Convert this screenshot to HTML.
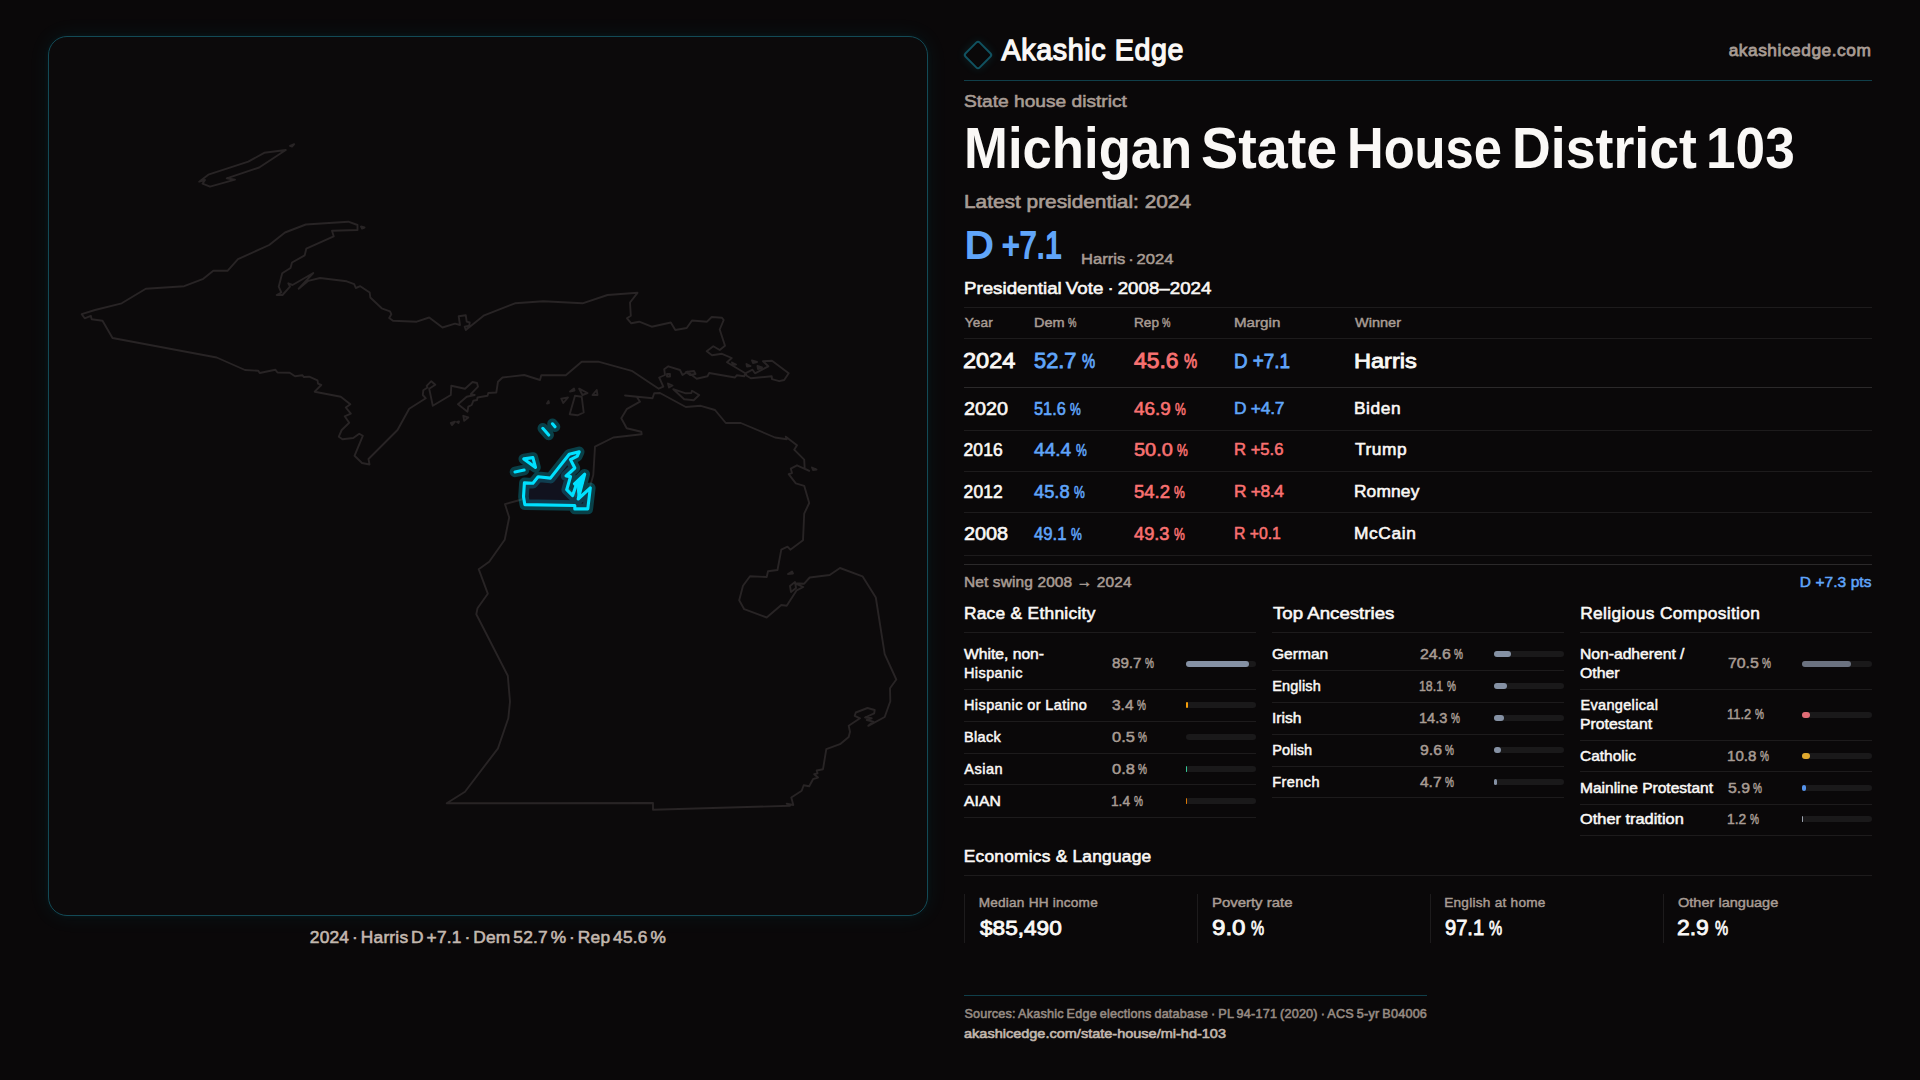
<!DOCTYPE html>
<html lang="en">
<head>
<meta charset="utf-8">
<title>Michigan State House District 103 — Akashic Edge</title>
<style>
*{box-sizing:border-box;margin:0;padding:0}
html,body{width:1920px;height:1080px;overflow:hidden;background:#0a0809}
body{position:relative;font-family:"Liberation Sans","DejaVu Sans",sans-serif;color:#faf8f6;-webkit-font-smoothing:antialiased}
.x{position:absolute;white-space:pre;line-height:1;font-weight:400;font-style:normal;transform-origin:0 0;display:block}
.ln,.ln2,.tl,.vl{position:absolute;display:block;height:1px;background:#1d1b1c}
.ln2{background:#2b292a}
.tl{background:#103f4a}
.vl{width:1px;height:49px;background:#1d1b1c}
.map{position:absolute;left:48px;top:36px;width:880px;height:880px;border:1px solid #134a56;border-radius:19px;background:#0c0a0b;box-shadow:0 0 22px rgba(34,211,238,.07),0 0 6px rgba(34,211,238,.05);overflow:hidden}
.mapsvg{position:absolute;left:-1px;top:-1px}
.state{fill:none;stroke:#282425;stroke-width:1.9;stroke-linejoin:round;stroke-linecap:round}
.dglow{fill:none;stroke:#00e5ff;stroke-opacity:.25;stroke-width:10.6;stroke-linejoin:round;stroke-linecap:round}
.dline{fill:rgba(40,50,110,.2);stroke:#00e1ff;stroke-width:3.1;stroke-linejoin:round;stroke-linecap:round}
.dfill{fill:#00e1ff;stroke:#00e1ff;stroke-width:1;stroke-linejoin:round}
.logo{position:absolute;left:966.6px;top:43.8px;width:22px;height:22px;border:2px solid #115260;border-radius:3.5px;transform:rotate(45deg);box-shadow:0 0 10px rgba(34,211,238,.12)}
.bar{position:absolute;display:block;width:70px;height:6px;border-radius:3px;background:#1a191a}
.bar b{display:block;height:6px;border-radius:3px}
</style>
</head>
<body>
<main>
<section class="map" aria-label="District map"><svg class="mapsvg" viewBox="48 36 880 880" width="880" height="880" role="img" aria-label="Michigan map with State House District 103 highlighted"><path class="state" d="M81.7 314.2 L95 310 L121.7 303.3 L145.8 288.7 L184.2 286.2 L203.3 278.8 L213.3 270.8 L227.5 270.8 L238 259.2 L269.2 245 L285 232.5 L305.8 224.5 L348.3 221.7 L357.5 225 L357.5 230 L332 230.8 L333.7 236.3 L306.3 248.7 L304.7 255.3 L292 262.5 L290.5 268 L282.2 273.3 L278.7 286.7 L281.3 292.5 L276.7 295 L282.5 295 L290 286.7 L288.3 283.3 L292.5 285 L313.3 273 L298.7 288.7 L308.3 280.8 L320 278 L346.7 281.3 L354.2 284.2 L355.8 288 L360.3 286.2 L369.7 292.5 L370.3 297.5 L381.7 308.3 L390 311.3 L391.3 314.2 L389.2 318 L393 320.8 L416.7 321.7 L429.2 317.5 L442.5 327.5 L455 323.7 L460 325 L458.7 316.3 L465.8 315.3 L466.7 321.7 L469.7 322.5 L469.2 325.8 L464.7 326.7 L465.8 330 L484.2 315.3 L515 303.3 L543.3 301.3 L582.5 303.3 L607.5 295 L637.5 292.8 L630 302.5 L630.8 315.8 L627 318.3 L631.3 323.3 L639.2 321.7 L651.7 326.7 L670.8 322.5 L675.3 330 L686.7 328 L692 320.5 L707 321.7 L711.7 317 L722 317.7 L723.7 320 L719.7 329.5 L725 345.8 L719.7 350 L713.3 346.3 L706.7 351.3 L712 355.3 L722 353.8 L731.7 358 L727 362.2 L745.3 373.3 L744.2 376.3 L736.7 375.3 L735 377.5 L709.2 373 L707.5 376.3 L696.7 378.7 L691.7 375 L687.5 371.7 L682.5 375 L680 370 L668.3 366.3 L664.2 369.2 L665 375 L659.2 377.5 L663.3 386.7 L658.7 388.7 L631.7 370.8 L598.3 361.7 L581.7 361.7 L565.8 375.3 L541.3 375.3 L540 380 L524.2 375 L502.5 377.5 L498 381.7 L496.3 392.5 L488.3 393 L487.5 395.8 L477.5 397.5 L477 400 L473.3 400.8 L471.7 405 L468.3 406.7 L467.5 411.7 L458 404.2 L466.7 396.7 L474.7 395 L470.8 394.2 L478 386.7 L477 383 L472.5 382 L465 388.7 L451.3 385.8 L450.8 395 L432.8 405.8 L429.2 388.7 L435.3 384.7 L431.3 381.2 L426.7 385.8 L427.5 387.5 L423.3 390.3 L422.8 395 L425.8 398.3 L409.2 408.7 L397.5 430 L368.5 459 L369.5 464.5 L362 463 L354.5 455.8 L362.8 435.8 L359.2 433.7 L353.3 438 L342.5 439.2 L338.8 436.7 L341.7 430 L349.2 422.8 L344.7 416.3 L350.8 413.7 L345.8 407.5 L350.3 404.2 L340.8 396.7 L314.7 391.7 L321.3 385 L318 383.7 L317.5 380.3 L309.2 376.7 L303.7 377 L302.5 375.3 L295 376.3 L289.7 372.8 L277.5 372.5 L275.3 369.7 L259.7 373 L258.3 370.8 L245 370 L216.7 357.5 L112.5 338 L102.5 320.8 L91.7 319.2 L90.8 315.8 L84.7 318.3ZM625 395.5 L652.5 398.3 L654.2 393.3 L660 393 L685.8 407 L700.8 405.8 L715 410 L725.8 423 L740.8 423 L775 437.5 L786.7 439.2 L785.8 436.7 L797 445.3 L794.2 449.7 L804.2 459.7 L804.7 468.7 L809.2 470.8 L797 465.3 L790.8 468.7 L792 473 L788.7 474.2 L795.8 483.3 L804.2 485.8 L809.2 503 L804.2 513.7 L803 540.3 L790.3 549.7 L787.5 546.7 L781.3 549.7 L777.5 570 L768 571.3 L766.7 577 L750 576.3 L743 585.8 L739.2 600.3 L744.2 609.2 L766.7 617.5 L781.3 605 L786.7 605.8 L796.7 590.3 L803.3 587 L795 583.3 L804.2 583.7 L809.7 577.5 L829.7 575 L840 568 L862.5 576.3 L875.8 597.5 L884.7 654.2 L896.3 679.5 L890 688.3 L890.3 701.3 L884.7 717 L868.3 725.8 L873.3 721.7 L866.7 720 L871.7 718.3 L865 717.5 L874.2 713.3 L874.7 710 L867.5 708 L855.8 712.5 L854.7 715.8 L860 718.3 L848.7 725.8 L850 731.7 L848.7 737 L840 744.2 L826.3 749.2 L823 769.2 L816.7 770.5 L817.5 773.3 L814.2 774.2 L818 777.5 L813 779.2 L809.2 786.3 L803.7 785.3 L801.7 790.8 L791.3 797.5 L793.3 805 L786.7 803.7 L790 805.8 L653 809.7 L653 803 L446.7 803.3 L465 791.7 L498 748.3 L508.3 718.3 L510 701.7 L507.8 675.8 L476.3 614.2 L477.5 608.3 L487.8 593.7 L478.7 569.2 L489.2 561.7 L504.7 539.7 L509.2 517.5 L505 504.2 L520 500 L523.6 498.6 L524.4 483.3 L533.1 483.1 L538.2 477.4 L550.9 478.5 L570.3 454.3 L578.4 452.6 L576.2 457.7 L571.3 459.9 L575.2 468.9 L568 476 L571.3 476.4 L568 488.2 L575.9 496.6 L575.4 485.4 L584.5 474.4 L578.9 498.6 L589.6 488.2 L593.3 475 L595 446.7 L613.3 437.5 L641.7 434.2 L641.3 431.7 L626.7 428.3 L621.3 418.3 L626.7 409.2 L640 401.7 L636.7 396.7ZM199.2 181.7 L208.3 174.7 L248.3 161.7 L264.2 152.8 L285.8 150 L259.2 167.5 L226.7 178.3 L235 179.7 L210 186.7 L202.5 183.7 L205 180ZM290 145.8 L294.2 144.2 L292 146.5ZM361 226.5 L364.5 227.5 L362 228.5ZM745.3 373.3 L752.5 369.7 L755 373.3 L768.3 366.3 L763 361.2 L772 360.8 L788.7 373.3 L784.2 380 L779.2 381.2 L772 379.2 L771.7 376.3 L750.8 378.3 L746.7 375.8ZM732 362.5 L736 364.5 L733 365ZM746.5 364 L750.5 366 L747 366.5ZM752 360.5 L757 362 L753 363ZM757.5 366 L762 367.5 L758 369ZM673.3 389.2 L685.8 393.3 L691.3 393 L692 390.8 L699.2 395 L693.7 400.3 L684.2 399.2ZM668 383.5 L672.5 385.5 L669 387.5ZM667 374 L670 374 L670 376.5 L667 376.5ZM686 372 L694 371 L695.5 374 L690 375ZM561.3 398.7 L568 397.5 L563.3 403ZM579.2 388.7 L587.5 393 L582.5 395ZM592.5 395 L596.7 390 L597.5 395ZM575 395.8 L581.7 396.7 L583.7 412.5 L577.5 415.3 L569.7 414.2ZM547 403.5 L548.5 401 L549 403ZM570 391.5 L574 388.5 L574.5 390.5ZM450.8 423 L455 421.7 L452 425ZM463.3 415.8 L468.3 417.5 L464.2 420.8ZM457 422 L459 421.5 L458.5 423ZM788 574 L792 571.5 L793 573.5ZM790 586 L795 582 L796 588 L791 592ZM812 467.5 L816.5 469.5 L813 470Z"/><path class="dglow" d="M524.4 482.9 L532.9 483.2 L538.1 476.8 L550.4 478.1 L569.2 454.3 L579.2 451.8 L577.3 456.2 L570.5 459.6 L574.8 468 L566.1 476 L570.5 476.6 L566.7 489.7 L572.6 495.6 L576.1 485.3 L574.5 483.8 L584.7 474.2 L578.2 499 L590.3 487.8 L587.8 508.9 L574.8 508.9 L574.8 505.5 L524.8 504.6 L523.5 496.8ZM523.8 458.9 L532.9 457.6 L535.5 467.4ZM515 471.9 L524.1 470M542.8 428.3 L548.7 435M552.5 423.8 L555 426.8"/><path class="dline" d="M524.4 482.9 L532.9 483.2 L538.1 476.8 L550.4 478.1 L569.2 454.3 L579.2 451.8 L577.3 456.2 L570.5 459.6 L574.8 468 L566.1 476 L570.5 476.6 L566.7 489.7 L572.6 495.6 L576.1 485.3 L574.5 483.8 L584.7 474.2 L578.2 499 L590.3 487.8 L587.8 508.9 L574.8 508.9 L574.8 505.5 L524.8 504.6 L523.5 496.8ZM523.8 458.9 L532.9 457.6 L535.5 467.4ZM515 471.9 L524.1 470M542.8 428.3 L548.7 435M552.5 423.8 L555 426.8"/><path class="dfill" d="M575.2 484.6 L584.5 475 L583.2 482.5 L578.2 497 L577 486Z"/></svg></section>
<p class="x" style="left:309.8px;top:929px;font-size:17.34px;-webkit-text-stroke:0.59px;word-spacing:-2.25px;letter-spacing:0.22px;color:#c3b8af">2024 · Harris D +7.1 · Dem 52.7 % · Rep 45.6 %</p>
<section class="info">
<header>
<span class="logo"></span><strong class="x" style="left:1001.6px;top:36px;font-size:28.6px;-webkit-text-stroke:1.29px;letter-spacing:0.64px;color:#faf8f6">Akashic Edge</strong><span class="x" style="left:1728.7px;top:42px;font-size:17.34px;-webkit-text-stroke:0.78px;letter-spacing:0.52px;color:#a89c94">akashicedge.com</span>
<i class="tl" style="left:964px;top:80px;width:908px"></i>
</header>
<p class="x" style="left:964.3px;top:93px;font-size:17.34px;-webkit-text-stroke:0.59px;transform:scaleX(1.1052);color:#a89c94">State house district</p>
<h1><span class="x" style="left:964.2px;top:119px;font-size:57.99px;font-weight:700;transform:scaleX(0.9085);color:#faf8f6">Michigan </span><span class="x" style="left:1200.7px;top:119px;font-size:57.99px;font-weight:700;transform:scaleX(0.9606);color:#faf8f6">State </span><span class="x" style="left:1347.2px;top:119px;font-size:57.99px;font-weight:700;transform:scaleX(0.8749);color:#faf8f6">House </span><span class="x" style="left:1512.0px;top:119px;font-size:57.99px;font-weight:700;transform:scaleX(0.9255);color:#faf8f6">District </span><span class="x" style="left:1706.2px;top:119px;font-size:57.99px;font-weight:700;transform:scaleX(0.9169);color:#faf8f6">103</span></h1>
<p class="x" style="left:964.0px;top:192px;font-size:19px;-webkit-text-stroke:0.65px;transform:scaleX(1.0965);color:#a89c94">Latest presidential: 2024</p>
<strong><span class="x" style="left:965.0px;top:227px;font-size:37.8px;-webkit-text-stroke:1.89px;transform:scaleX(1.0353);color:#60a5fa">D </span><span class="x" style="left:1002.4px;top:227px;font-size:37.8px;-webkit-text-stroke:1.89px;transform:scaleX(0.8008);color:#60a5fa">+7.1</span></strong><span class="x" style="left:1080.6px;top:251px;font-size:15.48px;-webkit-text-stroke:0.53px;word-spacing:-1.55px;transform:scaleX(1.0714);color:#a89c94">Harris · 2024</span>
<section class="votes">
<h2 class="x" style="left:963.7px;top:280px;font-size:17.34px;-webkit-text-stroke:0.59px;word-spacing:-1.04px;transform:scaleX(1.0799);color:#faf8f6">Presidential Vote · 2008–2024</h2>
<i class="ln" style="left:964px;top:307px;width:908px"></i>
<div class="tr"><span class="x" style="left:964.8px;top:316px;font-size:13.62px;-webkit-text-stroke:0.46px;letter-spacing:0.16px;color:#a89c94">Year</span><span class="x" style="left:1033.6px;top:316px;font-size:13.62px;-webkit-text-stroke:0.46px;transform:scaleX(1.0667);color:#a89c94">Dem </span><span class="x" style="left:1067.5px;top:316px;font-size:13.62px;-webkit-text-stroke:0.46px;transform:scaleX(0.6988);color:#a89c94">%</span><span class="x" style="left:1133.7px;top:316px;font-size:13.62px;-webkit-text-stroke:0.46px;transform:scaleX(1.0011);color:#a89c94">Rep </span><span class="x" style="left:1162.2px;top:316px;font-size:13.62px;-webkit-text-stroke:0.46px;transform:scaleX(0.6988);color:#a89c94">%</span><span class="x" style="left:1233.6px;top:316px;font-size:13.62px;-webkit-text-stroke:0.46px;transform:scaleX(1.1136);color:#a89c94">Margin</span><span class="x" style="left:1354.6px;top:316px;font-size:13.62px;-webkit-text-stroke:0.46px;transform:scaleX(1.0664);color:#a89c94">Winner</span><i class="ln" style="left:964px;top:338px;width:908px"></i></div>
<div class="tr"><span class="x" style="left:963.4px;top:351px;font-size:21.5px;-webkit-text-stroke:0.86px;transform:scaleX(1.0950);color:#faf8f6">2024</span><span class="x" style="left:1034.1px;top:351px;font-size:21.5px;-webkit-text-stroke:0.86px;transform:scaleX(1.0146);color:#60a5fa">52.7 </span><span class="x" style="left:1082.1px;top:350px;font-size:21.06px;-webkit-text-stroke:0.84px;transform:scaleX(0.7026);color:#60a5fa">%</span><span class="x" style="left:1134.0px;top:351px;font-size:21.5px;-webkit-text-stroke:0.86px;transform:scaleX(1.0635);color:#f87171">45.6 </span><span class="x" style="left:1184.1px;top:350px;font-size:21.06px;-webkit-text-stroke:0.84px;transform:scaleX(0.7026);color:#f87171">%</span><span class="x" style="left:1234.0px;top:350px;font-size:21.06px;-webkit-text-stroke:0.84px;transform:scaleX(0.8941);color:#60a5fa">D +7.1</span><span class="x" style="left:1353.7px;top:350px;font-size:21.06px;-webkit-text-stroke:0.84px;transform:scaleX(1.1170);color:#faf8f6">Harris</span><i class="ln2" style="left:964px;top:387px;width:908px"></i></div>
<div class="tr"><span class="x" style="left:963.5px;top:401px;font-size:17.45px;-webkit-text-stroke:0.59px;transform:scaleX(1.1340);color:#faf8f6">2020</span><span class="x" style="left:1034.1px;top:401px;font-size:17.45px;-webkit-text-stroke:0.59px;transform:scaleX(0.9358);color:#60a5fa">51.6 </span><span class="x" style="left:1070.4px;top:401px;font-size:17.34px;-webkit-text-stroke:0.59px;transform:scaleX(0.7019);color:#60a5fa">%</span><span class="x" style="left:1133.9px;top:401px;font-size:17.45px;-webkit-text-stroke:0.59px;transform:scaleX(1.0791);color:#f87171">46.9 </span><span class="x" style="left:1174.9px;top:401px;font-size:17.34px;-webkit-text-stroke:0.59px;transform:scaleX(0.7019);color:#f87171">%</span><span class="x" style="left:1233.9px;top:400px;font-size:17.34px;-webkit-text-stroke:0.59px;letter-spacing:-0.19px;color:#60a5fa">D +4.7</span><span class="x" style="left:1353.9px;top:400px;font-size:17.34px;-webkit-text-stroke:0.59px;letter-spacing:0.59px;color:#faf8f6">Biden</span><i class="ln" style="left:964px;top:430px;width:908px"></i></div>
<div class="tr"><span class="x" style="left:963.6px;top:442px;font-size:17.45px;-webkit-text-stroke:0.59px;letter-spacing:0.07px;color:#faf8f6">2016</span><span class="x" style="left:1034.4px;top:442px;font-size:17.45px;-webkit-text-stroke:0.59px;transform:scaleX(1.0983);color:#60a5fa">44.4 </span><span class="x" style="left:1076.4px;top:442px;font-size:17.34px;-webkit-text-stroke:0.59px;transform:scaleX(0.7019);color:#60a5fa">%</span><span class="x" style="left:1134.0px;top:442px;font-size:17.45px;-webkit-text-stroke:0.59px;transform:scaleX(1.1425);color:#f87171">50.0 </span><span class="x" style="left:1177.4px;top:442px;font-size:17.34px;-webkit-text-stroke:0.59px;transform:scaleX(0.7019);color:#f87171">%</span><span class="x" style="left:1233.9px;top:441px;font-size:17.34px;-webkit-text-stroke:0.59px;transform:scaleX(0.9597);color:#f87171">R +5.6</span><span class="x" style="left:1355.0px;top:441px;font-size:17.34px;-webkit-text-stroke:0.59px;letter-spacing:0.53px;color:#faf8f6">Trump</span><i class="ln" style="left:964px;top:471px;width:908px"></i></div>
<div class="tr"><span class="x" style="left:963.6px;top:484px;font-size:17.45px;-webkit-text-stroke:0.59px;letter-spacing:0.09px;color:#faf8f6">2012</span><span class="x" style="left:1034.4px;top:484px;font-size:17.45px;-webkit-text-stroke:0.59px;transform:scaleX(1.0476);color:#60a5fa">45.8 </span><span class="x" style="left:1074.4px;top:484px;font-size:17.34px;-webkit-text-stroke:0.59px;transform:scaleX(0.7019);color:#60a5fa">%</span><span class="x" style="left:1134.0px;top:484px;font-size:17.45px;-webkit-text-stroke:0.59px;transform:scaleX(1.0592);color:#f87171">54.2 </span><span class="x" style="left:1174.4px;top:484px;font-size:17.34px;-webkit-text-stroke:0.59px;transform:scaleX(0.7019);color:#f87171">%</span><span class="x" style="left:1233.9px;top:483px;font-size:17.34px;-webkit-text-stroke:0.59px;letter-spacing:-0.29px;color:#f87171">R +8.4</span><span class="x" style="left:1353.9px;top:483px;font-size:17.34px;-webkit-text-stroke:0.59px;letter-spacing:0.19px;color:#faf8f6">Romney</span><i class="ln" style="left:964px;top:512px;width:908px"></i></div>
<div class="tr"><span class="x" style="left:963.5px;top:526px;font-size:17.45px;-webkit-text-stroke:0.59px;transform:scaleX(1.1379);color:#faf8f6">2008</span><span class="x" style="left:1034.4px;top:526px;font-size:17.45px;-webkit-text-stroke:0.59px;transform:scaleX(0.9590);color:#60a5fa">49.1 </span><span class="x" style="left:1071.4px;top:526px;font-size:17.34px;-webkit-text-stroke:0.59px;transform:scaleX(0.7019);color:#60a5fa">%</span><span class="x" style="left:1134.4px;top:526px;font-size:17.45px;-webkit-text-stroke:0.59px;transform:scaleX(1.0467);color:#f87171">49.3 </span><span class="x" style="left:1174.4px;top:526px;font-size:17.34px;-webkit-text-stroke:0.59px;transform:scaleX(0.7019);color:#f87171">%</span><span class="x" style="left:1234.0px;top:525px;font-size:17.34px;-webkit-text-stroke:0.59px;transform:scaleX(0.9098);color:#f87171">R +0.1</span><span class="x" style="left:1353.9px;top:525px;font-size:17.34px;-webkit-text-stroke:0.59px;letter-spacing:0.65px;color:#faf8f6">McCain</span><i class="ln" style="left:964px;top:555px;width:908px"></i></div>
<i class="ln2" style="left:964px;top:564px;width:908px"></i><span class="x" style="left:963.9px;top:574px;font-size:15.48px;-webkit-text-stroke:0.53px;letter-spacing:0.13px;color:#a89c94">Net swing 2008 → 2024</span><span class="x" style="left:1799.8px;top:574px;font-size:15.48px;-webkit-text-stroke:0.53px;letter-spacing:0.08px;color:#60a5fa">D +7.3 pts</span>
</section>
<section class="col">
<h3 class="x" style="left:963.9px;top:605px;font-size:17.34px;-webkit-text-stroke:0.59px;letter-spacing:0.29px;color:#faf8f6">Race &amp; Ethnicity</h3><i class="ln" style="left:964px;top:632px;width:292px"></i>
<div class="row"><span class="x" style="left:964.4px;top:647px;font-size:14.5px;-webkit-text-stroke:0.49px;transform:scaleX(1.0789);color:#faf8f6">White, non-</span><span class="x" style="left:964.0px;top:666px;font-size:14.5px;-webkit-text-stroke:0.49px;letter-spacing:0.40px;color:#faf8f6">Hispanic</span><span class="x" style="left:1111.7px;top:656px;font-size:14.5px;-webkit-text-stroke:0.49px;transform:scaleX(1.0462);color:#a89c94">89.7 </span><span class="x" style="left:1144.9px;top:656px;font-size:14.5px;-webkit-text-stroke:0.49px;transform:scaleX(0.6952);color:#a89c94">%</span><span class="bar" style="left:1186px;top:661px"><b style="width:62.79px;background:#8591a4"></b></span><i class="ln" style="left:964px;top:689px;width:292px"></i></div>
<div class="row"><span class="x" style="left:964.0px;top:698px;font-size:14.5px;-webkit-text-stroke:0.49px;letter-spacing:0.40px;color:#faf8f6">Hispanic or Latino</span><span class="x" style="left:1111.7px;top:698px;font-size:14.5px;-webkit-text-stroke:0.49px;transform:scaleX(1.0684);color:#a89c94">3.4 </span><span class="x" style="left:1137.1px;top:698px;font-size:14.5px;-webkit-text-stroke:0.49px;transform:scaleX(0.6952);color:#a89c94">%</span><span class="bar" style="left:1186px;top:702px"><b style="width:2.38px;background:#f59e0b"></b></span><i class="ln" style="left:964px;top:721px;width:292px"></i></div>
<div class="row"><span class="x" style="left:964.0px;top:730px;font-size:14.5px;-webkit-text-stroke:0.49px;letter-spacing:0.35px;color:#faf8f6">Black</span><span class="x" style="left:1111.7px;top:730px;font-size:14.5px;-webkit-text-stroke:0.49px;transform:scaleX(1.1328);color:#a89c94">0.5 </span><span class="x" style="left:1138.1px;top:730px;font-size:14.5px;-webkit-text-stroke:0.49px;transform:scaleX(0.6952);color:#a89c94">%</span><span class="bar" style="left:1186px;top:734px"><b style="width:0.35px;background:transparent"></b></span><i class="ln" style="left:964px;top:753px;width:292px"></i></div>
<div class="row"><span class="x" style="left:964.3px;top:762px;font-size:14.5px;-webkit-text-stroke:0.49px;letter-spacing:0.48px;color:#faf8f6">Asian</span><span class="x" style="left:1111.7px;top:762px;font-size:14.5px;-webkit-text-stroke:0.49px;transform:scaleX(1.1334);color:#a89c94">0.8 </span><span class="x" style="left:1138.1px;top:762px;font-size:14.5px;-webkit-text-stroke:0.49px;transform:scaleX(0.6952);color:#a89c94">%</span><span class="bar" style="left:1186px;top:766px"><b style="width:0.56px;background:#36c796"></b></span><i class="ln" style="left:964px;top:784px;width:292px"></i></div>
<div class="row"><span class="x" style="left:964.3px;top:794px;font-size:14.5px;-webkit-text-stroke:0.49px;transform:scaleX(1.0864);color:#faf8f6">AIAN</span><span class="x" style="left:1111.2px;top:794px;font-size:14.5px;-webkit-text-stroke:0.49px;transform:scaleX(0.9437);color:#a89c94">1.4 </span><span class="x" style="left:1134.1px;top:794px;font-size:14.5px;-webkit-text-stroke:0.49px;transform:scaleX(0.6952);color:#a89c94">%</span><span class="bar" style="left:1186px;top:798px"><b style="width:0.98px;background:#d97706"></b></span><i class="ln" style="left:964px;top:817px;width:292px"></i></div>
</section>
<section class="col">
<h3 class="x" style="left:1272.8px;top:605px;font-size:17.34px;-webkit-text-stroke:0.59px;transform:scaleX(1.0767);color:#faf8f6">Top Ancestries</h3><i class="ln" style="left:1272px;top:632px;width:292px"></i>
<div class="row"><span class="x" style="left:1272.4px;top:647px;font-size:14.5px;-webkit-text-stroke:0.49px;transform:scaleX(1.0736);color:#faf8f6">German</span><span class="x" style="left:1419.7px;top:647px;font-size:14.5px;-webkit-text-stroke:0.49px;transform:scaleX(1.0924);color:#a89c94">24.6 </span><span class="x" style="left:1454.1px;top:647px;font-size:14.5px;-webkit-text-stroke:0.49px;transform:scaleX(0.6952);color:#a89c94">%</span><span class="bar" style="left:1494px;top:651px"><b style="width:17.22px;background:#8591a4"></b></span><i class="ln" style="left:1272px;top:670px;width:292px"></i></div>
<div class="row"><span class="x" style="left:1272.3px;top:679px;font-size:14.5px;-webkit-text-stroke:0.49px;letter-spacing:0.14px;color:#faf8f6">English</span><span class="x" style="left:1419.3px;top:679px;font-size:14.5px;-webkit-text-stroke:0.49px;transform:scaleX(0.8499);color:#a89c94">18.1 </span><span class="x" style="left:1447.1px;top:679px;font-size:14.5px;-webkit-text-stroke:0.49px;transform:scaleX(0.6952);color:#a89c94">%</span><span class="bar" style="left:1494px;top:683px"><b style="width:12.67px;background:#8591a4"></b></span><i class="ln" style="left:1272px;top:702px;width:292px"></i></div>
<div class="row"><span class="x" style="left:1272.0px;top:711px;font-size:14.5px;-webkit-text-stroke:0.49px;transform:scaleX(1.0739);color:#faf8f6">Irish</span><span class="x" style="left:1419.2px;top:711px;font-size:14.5px;-webkit-text-stroke:0.49px;transform:scaleX(1.0030);color:#a89c94">14.3 </span><span class="x" style="left:1451.1px;top:711px;font-size:14.5px;-webkit-text-stroke:0.49px;transform:scaleX(0.6952);color:#a89c94">%</span><span class="bar" style="left:1494px;top:715px"><b style="width:10.01px;background:#8591a4"></b></span><i class="ln" style="left:1272px;top:734px;width:292px"></i></div>
<div class="row"><span class="x" style="left:1272.3px;top:743px;font-size:14.5px;-webkit-text-stroke:0.49px;letter-spacing:0.07px;color:#faf8f6">Polish</span><span class="x" style="left:1419.6px;top:743px;font-size:14.5px;-webkit-text-stroke:0.49px;transform:scaleX(1.0878);color:#a89c94">9.6 </span><span class="x" style="left:1445.1px;top:743px;font-size:14.5px;-webkit-text-stroke:0.49px;transform:scaleX(0.6952);color:#a89c94">%</span><span class="bar" style="left:1494px;top:747px"><b style="width:6.72px;background:#8591a4"></b></span><i class="ln" style="left:1272px;top:766px;width:292px"></i></div>
<div class="row"><span class="x" style="left:1272.3px;top:775px;font-size:14.5px;-webkit-text-stroke:0.49px;letter-spacing:0.44px;color:#faf8f6">French</span><span class="x" style="left:1420.0px;top:775px;font-size:14.5px;-webkit-text-stroke:0.49px;transform:scaleX(1.0693);color:#a89c94">4.7 </span><span class="x" style="left:1445.1px;top:775px;font-size:14.5px;-webkit-text-stroke:0.49px;transform:scaleX(0.6952);color:#a89c94">%</span><span class="bar" style="left:1494px;top:779px"><b style="width:3.29px;background:#8591a4"></b></span><i class="ln" style="left:1272px;top:797px;width:292px"></i></div>
</section>
<section class="col">
<h3 class="x" style="left:1580.2px;top:605px;font-size:17.34px;-webkit-text-stroke:0.59px;letter-spacing:0.37px;color:#faf8f6">Religious Composition</h3><i class="ln" style="left:1580px;top:632px;width:292px"></i>
<div class="row"><span class="x" style="left:1580.3px;top:647px;font-size:14.5px;-webkit-text-stroke:0.49px;transform:scaleX(1.0800);color:#faf8f6">Non-adherent / </span><span class="x" style="left:1580.2px;top:666px;font-size:14.5px;-webkit-text-stroke:0.49px;transform:scaleX(1.0920);color:#faf8f6">Other</span><span class="x" style="left:1727.7px;top:656px;font-size:14.5px;-webkit-text-stroke:0.49px;transform:scaleX(1.0924);color:#a89c94">70.5 </span><span class="x" style="left:1762.1px;top:656px;font-size:14.5px;-webkit-text-stroke:0.49px;transform:scaleX(0.6952);color:#a89c94">%</span><span class="bar" style="left:1802px;top:661px"><b style="width:49.35px;background:#6b7280"></b></span><i class="ln" style="left:1580px;top:689px;width:292px"></i></div>
<div class="row"><span class="x" style="left:1580.4px;top:698px;font-size:14.5px;-webkit-text-stroke:0.49px;letter-spacing:0.34px;color:#faf8f6">Evangelical </span><span class="x" style="left:1580.3px;top:717px;font-size:14.5px;-webkit-text-stroke:0.49px;transform:scaleX(1.0904);color:#faf8f6">Protestant</span><span class="x" style="left:1727.3px;top:707px;font-size:14.5px;-webkit-text-stroke:0.49px;transform:scaleX(0.8910);color:#a89c94">11.2 </span><span class="x" style="left:1755.1px;top:707px;font-size:14.5px;-webkit-text-stroke:0.49px;transform:scaleX(0.6952);color:#a89c94">%</span><span class="bar" style="left:1802px;top:712px"><b style="width:7.84px;background:#e06c75"></b></span><i class="ln" style="left:1580px;top:740px;width:292px"></i></div>
<div class="row"><span class="x" style="left:1580.3px;top:749px;font-size:14.5px;-webkit-text-stroke:0.49px;transform:scaleX(1.0668);color:#faf8f6">Catholic</span><span class="x" style="left:1727.1px;top:749px;font-size:14.5px;-webkit-text-stroke:0.49px;transform:scaleX(1.0395);color:#a89c94">10.8 </span><span class="x" style="left:1760.1px;top:749px;font-size:14.5px;-webkit-text-stroke:0.49px;transform:scaleX(0.6952);color:#a89c94">%</span><span class="bar" style="left:1802px;top:753px"><b style="width:7.56px;background:#e0a82e"></b></span><i class="ln" style="left:1580px;top:771px;width:292px"></i></div>
<div class="row"><span class="x" style="left:1579.9px;top:781px;font-size:14.5px;-webkit-text-stroke:0.49px;transform:scaleX(1.0714);color:#faf8f6">Mainline Protestant</span><span class="x" style="left:1727.6px;top:781px;font-size:14.5px;-webkit-text-stroke:0.49px;transform:scaleX(1.0898);color:#a89c94">5.9 </span><span class="x" style="left:1753.1px;top:781px;font-size:14.5px;-webkit-text-stroke:0.49px;transform:scaleX(0.6952);color:#a89c94">%</span><span class="bar" style="left:1802px;top:785px"><b style="width:4.13px;background:#5593ea"></b></span><i class="ln" style="left:1580px;top:804px;width:292px"></i></div>
<div class="row"><span class="x" style="left:1580.1px;top:812px;font-size:14.5px;-webkit-text-stroke:0.49px;transform:scaleX(1.1292);color:#faf8f6">Other tradition</span><span class="x" style="left:1727.2px;top:812px;font-size:14.5px;-webkit-text-stroke:0.49px;transform:scaleX(0.9564);color:#a89c94">1.2 </span><span class="x" style="left:1750.1px;top:812px;font-size:14.5px;-webkit-text-stroke:0.49px;transform:scaleX(0.6952);color:#a89c94">%</span><span class="bar" style="left:1802px;top:816px"><b style="width:0.84px;background:#9ca3af"></b></span><i class="ln" style="left:1580px;top:835px;width:292px"></i></div>
</section>
<section class="eco">
<h3 class="x" style="left:963.8px;top:848px;font-size:17.34px;-webkit-text-stroke:0.59px;letter-spacing:0.23px;color:#faf8f6">Economics &amp; Language</h3><i class="ln" style="left:964px;top:875px;width:908px"></i>
<div class="stat"><i class="vl" style="left:964px;top:894px"></i><span class="x" style="left:978.7px;top:896px;font-size:13.62px;-webkit-text-stroke:0.46px;letter-spacing:0.22px;color:#a89c94">Median HH income</span><strong class="x" style="left:979.7px;top:917px;font-size:21.06px;-webkit-text-stroke:0.84px;transform:scaleX(1.0746);color:#faf8f6">$85,490</strong></div>
<div class="stat"><i class="vl" style="left:1197px;top:894px"></i><span class="x" style="left:1211.6px;top:896px;font-size:13.62px;-webkit-text-stroke:0.46px;transform:scaleX(1.0963);color:#a89c94">Poverty rate</span><strong><span class="x" style="left:1211.9px;top:918px;font-size:21.5px;-webkit-text-stroke:0.86px;transform:scaleX(1.1215);color:#faf8f6">9.0 </span><span class="x" style="left:1251.1px;top:917px;font-size:21.06px;-webkit-text-stroke:0.84px;transform:scaleX(0.7026);color:#faf8f6">%</span></strong></div>
<div class="stat"><i class="vl" style="left:1430px;top:894px"></i><span class="x" style="left:1444.2px;top:896px;font-size:13.62px;-webkit-text-stroke:0.46px;letter-spacing:0.26px;color:#a89c94">English at home</span><strong><span class="x" style="left:1444.5px;top:918px;font-size:21.5px;-webkit-text-stroke:0.86px;transform:scaleX(0.9327);color:#faf8f6">97.1 </span><span class="x" style="left:1489.1px;top:917px;font-size:21.06px;-webkit-text-stroke:0.84px;transform:scaleX(0.7026);color:#faf8f6">%</span></strong></div>
<div class="stat"><i class="vl" style="left:1663px;top:894px"></i><span class="x" style="left:1677.7px;top:896px;font-size:13.62px;-webkit-text-stroke:0.46px;transform:scaleX(1.0688);color:#a89c94">Other language</span><strong><span class="x" style="left:1677.4px;top:918px;font-size:21.5px;-webkit-text-stroke:0.86px;transform:scaleX(1.0651);color:#faf8f6">2.9 </span><span class="x" style="left:1714.7px;top:917px;font-size:21.06px;-webkit-text-stroke:0.84px;transform:scaleX(0.7026);color:#faf8f6">%</span></strong></div>
</section>
<footer><i class="tl" style="left:964px;top:995px;width:463px"></i><p class="x" style="left:964.4px;top:1008px;font-size:12.64px;-webkit-text-stroke:0.57px;word-spacing:-0.76px;letter-spacing:0.20px;color:#968b83">Sources: Akashic Edge elections database · PL 94-171 (2020) · ACS 5-yr B04006</p><p class="x" style="left:964.3px;top:1027px;font-size:13.62px;-webkit-text-stroke:0.61px;transform:scaleX(1.0655);color:#c3b8af">akashicedge.com/state-house/mi-hd-103</p></footer>
</section>
</main>
</body>
</html>
